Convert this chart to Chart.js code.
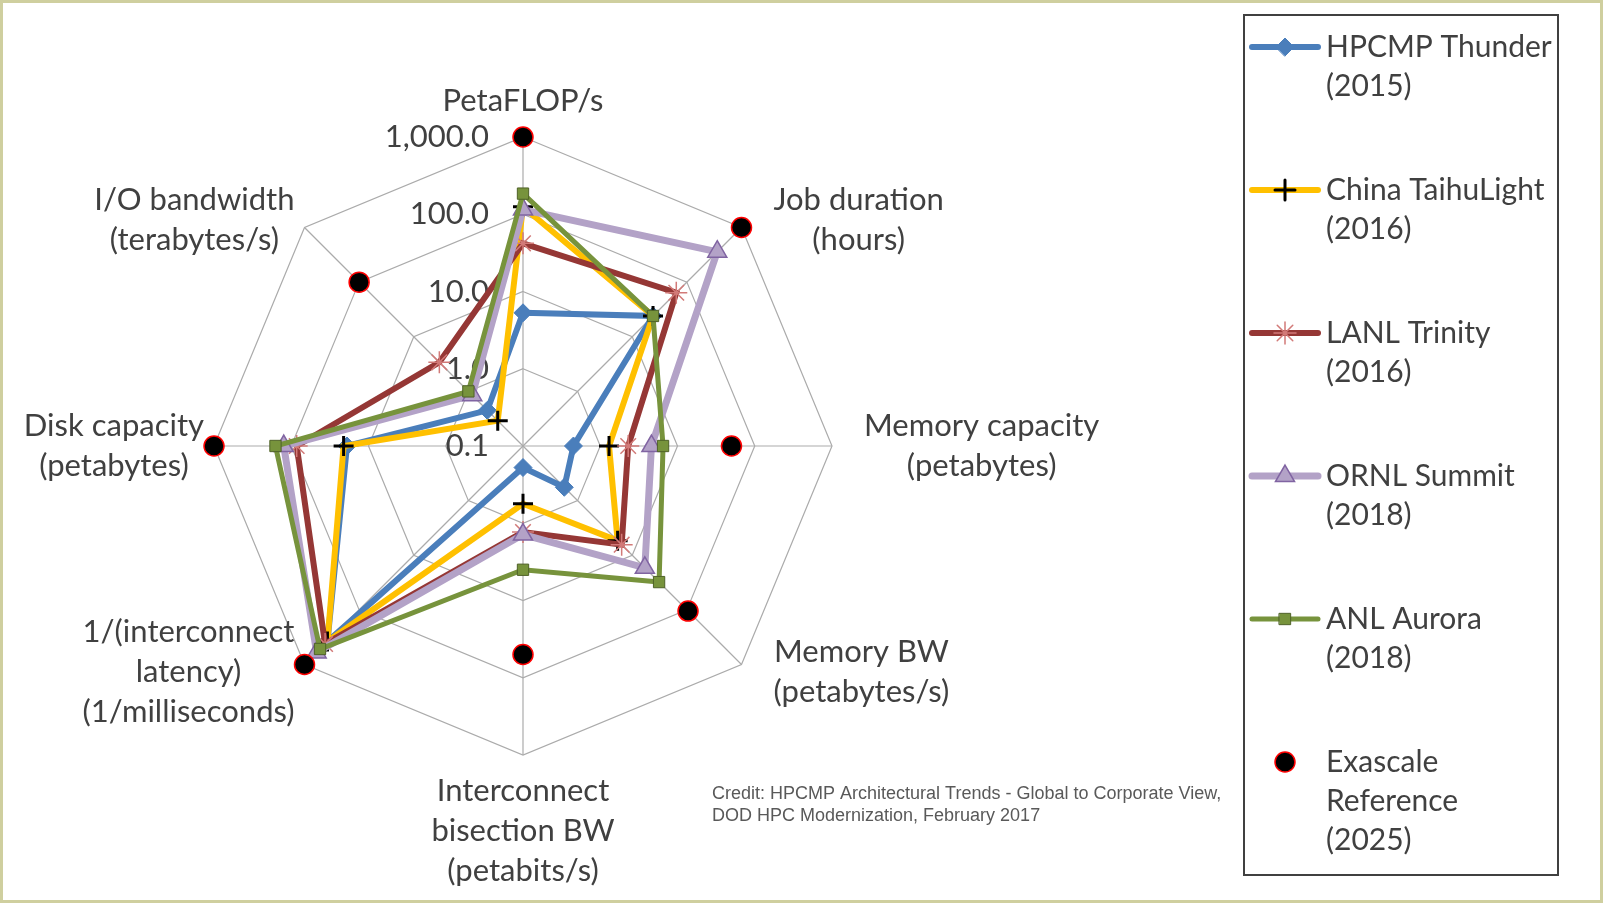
<!DOCTYPE html>
<html>
<head>
<meta charset="utf-8">
<script src="https://cdn.jsdelivr.net/npm/chart.js@4.4.1/dist/chart.umd.min.js"></script>
<style>
html,body{margin:0;padding:0;background:#fff;}
#wrap{position:absolute;left:0;top:0;width:1605px;height:905px;}
#frame{position:absolute;left:0;top:0;width:1603px;height:903px;box-sizing:border-box;border:3px solid #cfcf9f;pointer-events:none;}
</style>
</head>
<body>
<div id="wrap"><canvas id="grafRadar"></canvas></div>
<div id="frame"></div>
<script>
// ejes del radar (sentido horario desde arriba)
const ejes = [
    ['PetaFLOP/s'],
    ['Job duration', '(hours)'],
    ['Memory capacity', '(petabytes)'],
    ['Memory BW', '(petabytes/s)'],
    ['Interconnect', 'bisection BW', '(petabits/s)'],
    ['1/(interconnect', 'latency)', '(1/milliseconds)'],
    ['Disk capacity', '(petabytes)'],
    ['I/O bandwidth', '(terabytes/s)']
]

// valores reales (escala logaritmica 0.1 .. 1000)
const thunder  = [5.3, 24, 0.45, 0.57, 0.19, 380, 19, 0.45]
const taihu    = [125, 24, 1.3, 5.4, 0.56, 380, 21, 0.29]
const trinity  = [42, 64, 2.3, 6.4, 1.3, 420, 85, 3.4]
const summit   = [115, 360, 4.6, 17, 1.4, 600, 125, 0.85]
const aurora   = [185, 24, 6.5, 31, 4, 520, 160, 1.0]
const exascale = [1000, 1000, 50, 105, 50, 1000, 1000, 100]

const nombres = [
    ['HPCMP Thunder', '(2015)'],
    ['China TaihuLight', '(2016)'],
    ['LANL Trinity', '(2016)'],
    ['ORNL Summit', '(2018)'],
    ['ANL Aurora', '(2018)'],
    ['Exascale', 'Reference', '(2025)']
]
const ticksLog = [-1, 0, 1, 2, 3]

const credito = [
    'Credit: HPCMP Architectural Trends - Global to Corporate View,',
    'DOD HPC Modernization, February 2017'
]

const log10 = arr => arr.map(v => Math.log10(v))
const fuente = '31px Lato'
const altoLinea = 40

const serie = (datos, nombre, color, extra) => Object.assign({
    label: nombre.join(' '),
    nombre: nombre,
    data: log10(datos),
    borderColor: color,
    backgroundColor: color,
    fill: false,
    tension: 0,
    clip: false
}, extra)

const etiquetasPlugin = {
    id: 'etiquetas',
    beforeDatasetsDraw(chart) {
        const r = chart.scales.r
        const ctx = chart.ctx
        ctx.save()
        ctx.fillStyle = '#404040'
        ctx.font = fuente
        // ticks a la izquierda del eje vertical
        ctx.textAlign = 'right'
        ctx.textBaseline = 'middle'
        r.ticks.forEach(t => {
            const d = r.getDistanceFromCenterForValue(t.value)
            const txt = Math.pow(10, t.value).toLocaleString('en-US', {minimumFractionDigits: 1, maximumFractionDigits: 1})
            ctx.fillText(txt, r.xCenter - 34, r.yCenter - d)
        })
        // nombres de los ejes
        ctx.textAlign = 'center'
        ejes.forEach((lineas, i) => {
            const p = r.getPointPosition(i, r.drawingArea)
            const ang = r.getIndexAngle(i) - Math.PI / 2
            const c = Math.cos(ang), s = Math.sin(ang)
            const w = Math.max(...lineas.map(l => ctx.measureText(l).width))
            const h = lineas.length * altoLinea
            let cx = p.x, cy = p.y
            if (Math.abs(c) < 0.01) {
                cy += Math.sign(s) * (h / 2 + 16)
            } else {
                cx += Math.sign(c) * (w / 2 + (c > 0 ? 32 : 10))
                if (Math.abs(s) > 0.01) cy += Math.sign(s) * 8
            }
            lineas.forEach((l, k) => ctx.fillText(l, cx, cy - h / 2 + altoLinea * (k + 0.5)))
        })
        ctx.restore()
    },
    afterDraw(chart) {
        const ctx = chart.ctx
        ctx.save()
        // leyenda
        ctx.strokeStyle = '#404040'
        ctx.lineWidth = 2
        ctx.strokeRect(1244, 15, 314, 860)
        ctx.font = '30px Lato'
        ctx.textAlign = 'left'
        ctx.textBaseline = 'middle'
        chart.data.datasets.forEach((ds, i) => {
            const y = 47 + i * 143
            if (ds.showLine !== false) {
                ctx.strokeStyle = ds.borderColor
                ctx.lineWidth = ds.borderWidth
                ctx.lineCap = 'round'
                ctx.beginPath()
                ctx.moveTo(1252, y)
                ctx.lineTo(1318, y)
                ctx.stroke()
            }
            ctx.fillStyle = ds.pointBackgroundColor
            ctx.strokeStyle = ds.pointBorderColor
            ctx.lineWidth = ds.pointBorderWidth
            Chart.helpers.drawPoint(ctx, {pointStyle: ds.pointStyle, radius: ds.pointRadius, rotation: 0, borderWidth: ds.pointBorderWidth}, 1285, y)
            ctx.fillStyle = '#404040'
            ds.nombre.forEach((l, k) => ctx.fillText(l, 1326, y + k * 39))
        })
        // credito
        ctx.font = '18px "Liberation Sans"'
        ctx.fillStyle = '#595959'
        credito.forEach((l, k) => ctx.fillText(l, 712, 794 + k * 22))
        ctx.restore()
    }
}

document.addEventListener('DOMContentLoaded', () => {
    const lienzo = document.getElementById('grafRadar')
    lienzo.width = 1605
    lienzo.height = 905
    new Chart(lienzo, {
        type: 'radar',
        plugins: [etiquetasPlugin],
        data: {
            labels: ejes.map(e => e.join(' ')),
            datasets: [
                serie(thunder, nombres[0], '#4a7ebb', {borderWidth: 6, pointStyle: 'rectRot', pointRadius: 9,
                    pointBackgroundColor: '#4a7ebb', pointBorderColor: '#4a7ebb', pointBorderWidth: 1, order: 5}),
                serie(taihu, nombres[1], '#ffc000', {borderWidth: 6, pointStyle: 'cross', pointRadius: 10,
                    pointBackgroundColor: '#000', pointBorderColor: '#000', pointBorderWidth: 3, order: 4}),
                serie(trinity, nombres[2], '#953735', {borderWidth: 6, pointStyle: 'star', pointRadius: 11,
                    pointBackgroundColor: '#d27a78', pointBorderColor: '#d27a78', pointBorderWidth: 1.5, order: 3}),
                serie(summit, nombres[3], '#b3a2c7', {borderWidth: 7, pointStyle: 'triangle', pointRadius: 11,
                    pointBackgroundColor: '#b3a2c7', pointBorderColor: '#8064a2', pointBorderWidth: 1.5, order: 2}),
                serie(aurora, nombres[4], '#77933c', {borderWidth: 5, pointStyle: 'rect', pointRadius: 8,
                    pointBackgroundColor: '#77933c', pointBorderColor: '#4f6228', pointBorderWidth: 1, order: 1}),
                serie(exascale, nombres[5], '#000', {showLine: false, borderWidth: 0, pointStyle: 'circle', pointRadius: 10,
                    pointBackgroundColor: '#000', pointBorderColor: '#ff0000', pointBorderWidth: 1.5, order: 0})
            ]
        },
        options: {
            responsive: false,
            animation: false,
            events: [],
            layout: {
                padding: {left: 214, right: 773, top: 137, bottom: 150}
            },
            plugins: {
                legend: {display: false},
                tooltip: {enabled: false}
            },
            scales: {
                r: {
                    min: ticksLog[0],
                    max: ticksLog[ticksLog.length - 1],
                    beginAtZero: false,
                    ticks: {stepSize: 1, display: false},
                    pointLabels: {display: false},
                    grid: {circular: false, color: '#ababab', lineWidth: 1.2},
                    angleLines: {color: '#ababab', lineWidth: 1.2}
                }
            }
        }
    })
})
</script>
</body>
</html>
